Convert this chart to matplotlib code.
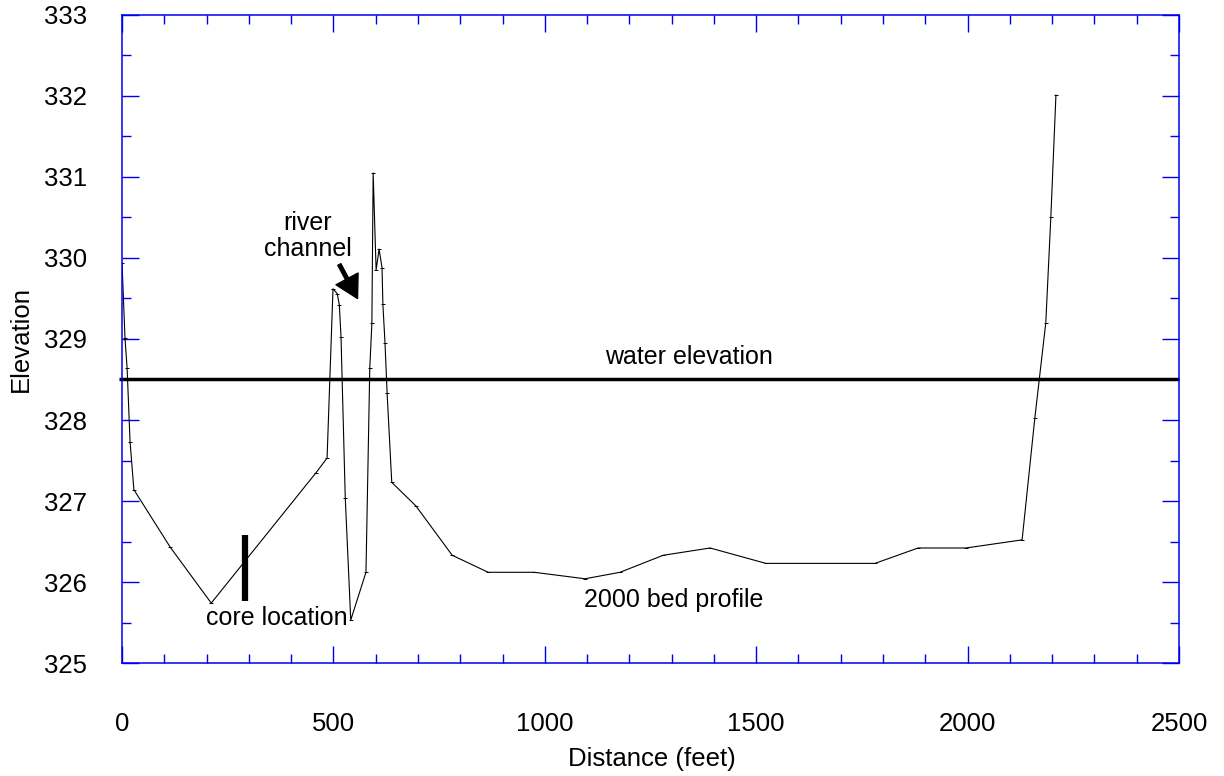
import matplotlib
matplotlib.use("Agg")
import matplotlib.pyplot as plt
from matplotlib.ticker import MultipleLocator

plt.rcParams['font.family'] = ['Liberation Sans', 'DejaVu Sans']

# 2000 bed profile (distance in feet, elevation)
dist = [0, 7, 12, 19, 28, 114, 211, 459, 485, 499, 509, 514, 518, 528,
        541, 577, 586, 591, 594, 601, 608, 615, 617, 622, 627, 638, 695,
        781, 866, 975, 1095, 1178, 1280, 1391, 1523, 1781, 1883, 1996,
        2129, 2159, 2185, 2197, 2209]
elev = [329.94, 329.01, 328.64, 327.73, 327.14, 326.43, 325.74, 327.35,
        327.53, 329.62, 329.56, 329.42, 329.02, 327.04, 325.53, 326.12,
        328.64, 329.2, 331.05, 329.85, 330.11, 329.88, 329.43, 328.95,
        328.33, 327.23, 326.94, 326.33, 326.12, 326.12, 326.04, 326.12,
        326.33, 326.42, 326.23, 326.23, 326.42, 326.42, 326.52, 328.02,
        329.2, 330.51, 332.01]

water_elev = 328.5
water_span = [-8, 2500]

core_x = 291
core_span = [325.77, 326.58]

fig = plt.figure(figsize=(12.24, 7.76), dpi=100)
ax = fig.add_axes([0.0997, 0.1456, 0.8635, 0.8351])

# bed profile with small marks at the survey points
ax.plot(dist, elev, color='black', lw=0.8, marker='_', ms=3, mew=0.7)

# water surface
ax.plot(water_span, [water_elev, water_elev], color='black', lw=2.5,
        solid_capstyle='butt', clip_on=False)

# core location bar
ax.plot([core_x, core_x], core_span, color='black', lw=4.5, solid_capstyle='butt')

# labels inside the plot
ax.text(1341, 328.78, 'water elevation', fontsize=18, ha='center', va='center')
ax.text(1306, 325.78, '2000 bed profile', fontsize=18, ha='center', va='center')
ax.text(367, 325.56, 'core location', fontsize=18, ha='center', va='center')
ax.text(440, 330.27, 'river\nchannel', fontsize=18, ha='center', va='center',
        linespacing=1.1)
ax.annotate('', xy=(557, 329.5), xytext=(514, 329.92),
            arrowprops=dict(width=2.5, headwidth=18, headlength=16,
                            color='black', shrink=0))

ax.set_xlim(0, 2500)
ax.set_ylim(325, 333)
ax.xaxis.set_major_locator(MultipleLocator(500))
ax.xaxis.set_minor_locator(MultipleLocator(100))
ax.yaxis.set_major_locator(MultipleLocator(1))
ax.yaxis.set_minor_locator(MultipleLocator(0.5))

blue = '#0000ee'
for s in ax.spines.values():
    s.set_color(blue)
    s.set_linewidth(1.1)
ax.tick_params(which='both', direction='in', top=True, right=True,
               color=blue, width=1.0, labelsize=18.5)
ax.tick_params(which='major', length=12)
ax.tick_params(which='minor', length=6.5)
ax.tick_params(axis='x', which='major', pad=35)
ax.tick_params(axis='y', which='major', pad=25)

ax.set_xlabel('Distance (feet)', fontsize=18.5)
ax.set_ylabel('Elevation', fontsize=18.5)
ax.xaxis.set_label_coords(0.501, -0.129)
ax.yaxis.set_label_coords(-0.084, 0.5)

fig.savefig('out.png', dpi=100)
